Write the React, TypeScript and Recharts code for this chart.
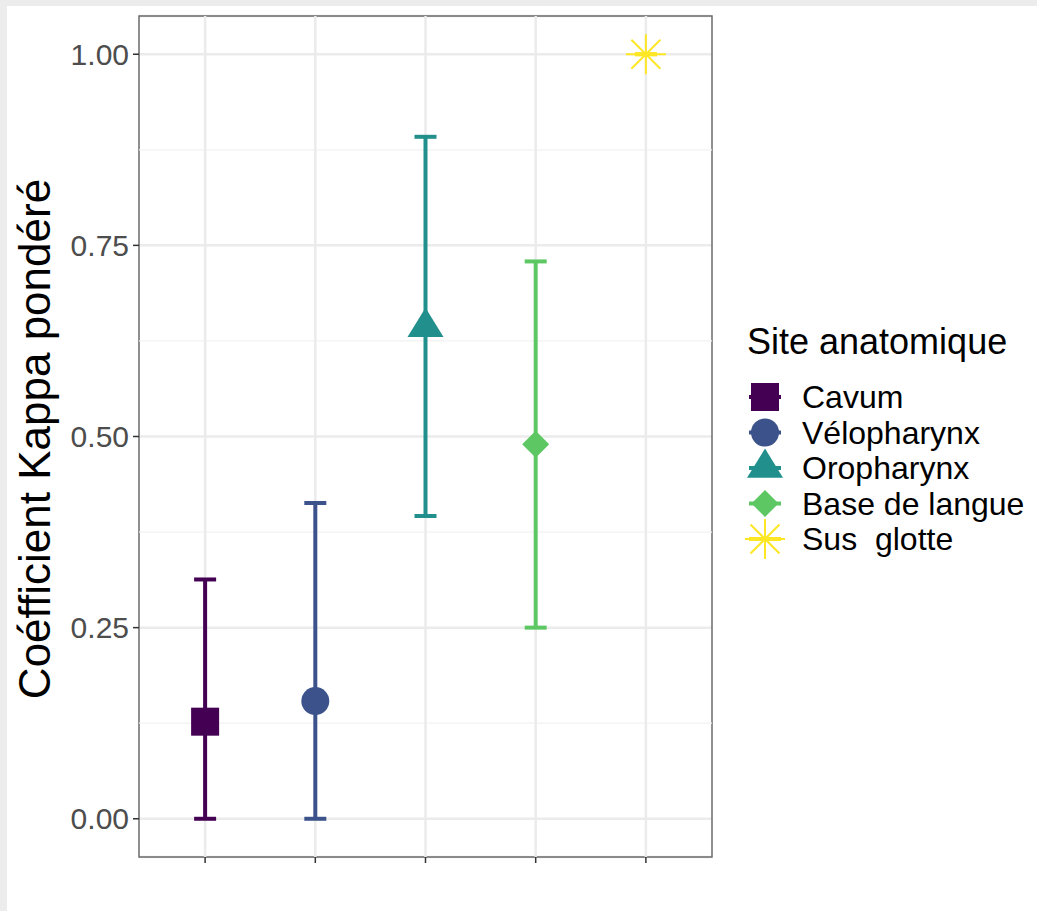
import React from 'react';
import { ComposedChart, Scatter, ErrorBar, XAxis, YAxis, CartesianGrid, ReferenceLine, ReferenceArea } from 'recharts';

// sites anatomiques, kappa pondéré et IC
const sites = ['Cavum', 'Vélopharynx', 'Oropharynx', 'Base de langue', 'Sus  glotte'];
const kappa = [0.127, 0.154, 0.643, 0.49, 1.0];
const lower = [0.0, 0.0, 0.396, 0.25, 1.0];
const upper = [0.313, 0.413, 0.892, 0.729, 1.0];
const colors = ['#440154', '#3B528B', '#21908C', '#5DC863', '#FDE725'];
const yTicks = [0, 0.25, 0.5, 0.75, 1];
const yMinor = [0.125, 0.375, 0.625, 0.875];
const xTicks = [1, 2, 3, 4, 5];

const FONT = '"Liberation Sans", Arial, Helvetica, sans-serif';

const drawShape = (i: number, cx: number, cy: number, color: string, s = 1) => {
    switch (i) {
        case 0:
            return <rect x={cx - 14 * s} y={cy - 14 * s} width={28 * s} height={28 * s} fill={color} />;
        case 1:
            return <circle cx={cx} cy={cy} r={14 * s} fill={color} />;
        case 2:
            return (
                <polygon
                    points={`${cx},${cy - 19.5 * s} ${cx + 18 * s},${cy + 9.75 * s} ${cx - 18 * s},${cy + 9.75 * s}`}
                    fill={color}
                />
            );
        case 3:
            return (
                <polygon
                    points={`${cx},${cy - 13.5 * s} ${cx + 13.5 * s},${cy} ${cx},${cy + 13.5 * s} ${cx - 13.5 * s},${cy}`}
                    fill={color}
                />
            );
        default: {
            const r = 20 * s;
            const d = 14.5 * s;
            return (
                <g stroke={color} strokeWidth={2}>
                    <line x1={cx - r} y1={cy} x2={cx + r} y2={cy} />
                    <line x1={cx} y1={cy - r} x2={cx} y2={cy + r} />
                    <line x1={cx - d} y1={cy - d} x2={cx + d} y2={cy + d} />
                    <line x1={cx - d} y1={cy + d} x2={cx + d} y2={cy - d} />
                </g>
            );
        }
    }
};

const Legend = () => {
    const baselines = [408, 443.5, 479, 514.5, 550];
    return (
        <svg width={1037} height={911} style={{ position: 'absolute', left: 0, top: 0, pointerEvents: 'none' }}>
            <text x={747} y={354} fontSize={36} fontFamily={FONT} fill="#000">Site anatomique</text>
            {sites.map((s, i) => {
                const cy = baselines[i] - 11;
                return (
                    <g key={s}>
                        <line x1={749} y1={cy} x2={781} y2={cy} stroke={colors[i]} strokeWidth={4} />
                        {drawShape(i, 765, cy, colors[i])}
                        <text x={802} y={baselines[i]} fontSize={32} fontFamily={FONT} fill="#000" xmlSpace="preserve" style={{ whiteSpace: 'pre' }}>
                            {s}
                        </text>
                    </g>
                );
            })}
        </svg>
    );
};

const YTitle = () => (
    <text x={50} y={439} transform="rotate(-90, 50, 439)" textAnchor="middle" fontSize={44} fontFamily={FONT} fill="#000">
        Coéfficient Kappa pondéré
    </text>
);

export default function App() {
    const series = sites.map((s, i) => [
        { x: i + 1, y: kappa[i], err: [kappa[i] - lower[i], upper[i] - kappa[i]] },
    ]);

    return (
        <div style={{ position: 'absolute', left: 0, top: 0, width: 1037, height: 911, background: '#ececec', overflow: 'hidden' }}>
            <div style={{ position: 'absolute', left: 7, top: 6, right: 0, bottom: 0, background: '#ffffff' }} />
            <div style={{ position: 'absolute', left: 0, top: 0 }}>
                <ComposedChart width={1037} height={911} margin={{ top: 16, right: 325, bottom: 0, left: 0 }}>
                    <CartesianGrid stroke="#ebebeb" strokeWidth={2.5} vertical={false} />
                    {yMinor.map(v => (
                        <ReferenceLine key={v} y={v} stroke="#f2f2f2" strokeWidth={1.3} />
                    ))}
                    {xTicks.map(v => (
                        <ReferenceLine key={'x' + v} x={v} stroke="#ebebeb" strokeWidth={2.5} />
                    ))}
                    <XAxis
                        dataKey="x"
                        type="number"
                        domain={[0.4, 5.6]}
                        ticks={xTicks}
                        allowDataOverflow
                        height={54}
                        tick={{ fontSize: 1, fill: 'none' }}
                        tickFormatter={() => ''}
                        tickSize={6}
                        tickLine={{ stroke: '#333', strokeWidth: 1.5 }}
                        axisLine={false}
                    />
                    <YAxis
                        dataKey="y"
                        type="number"
                        domain={[-0.05, 1.05]}
                        ticks={yTicks}
                        allowDataOverflow
                        width={139}
                        tickSize={6}
                        tickMargin={4}
                        tickLine={{ stroke: '#333', strokeWidth: 1.5 }}
                        axisLine={false}
                        tickFormatter={(v: number) => v.toFixed(2)}
                        tick={{ fontSize: 30, fill: '#4d4d4d', fontFamily: FONT }}
                        label={<YTitle />}
                    />
                    <ReferenceArea x1={0.4} x2={5.6} y1={-0.05} y2={1.05} fill="none" stroke="#6b6b6b" strokeWidth={1.5} />
                    {series.map((d, i) => (
                        <Scatter
                            key={sites[i]}
                            name={sites[i]}
                            data={d}
                            dataKey="y"
                            fill={colors[i]}
                            isAnimationActive={false}
                            shape={(p: any) => drawShape(i, p.cx, p.cy, colors[i])}
                        >
                            <ErrorBar dataKey="err" direction="y" width={11} stroke={colors[i]} strokeWidth={4} isAnimationActive={false} />
                        </Scatter>
                    ))}
                </ComposedChart>
            </div>
            <Legend />
        </div>
    );
}
